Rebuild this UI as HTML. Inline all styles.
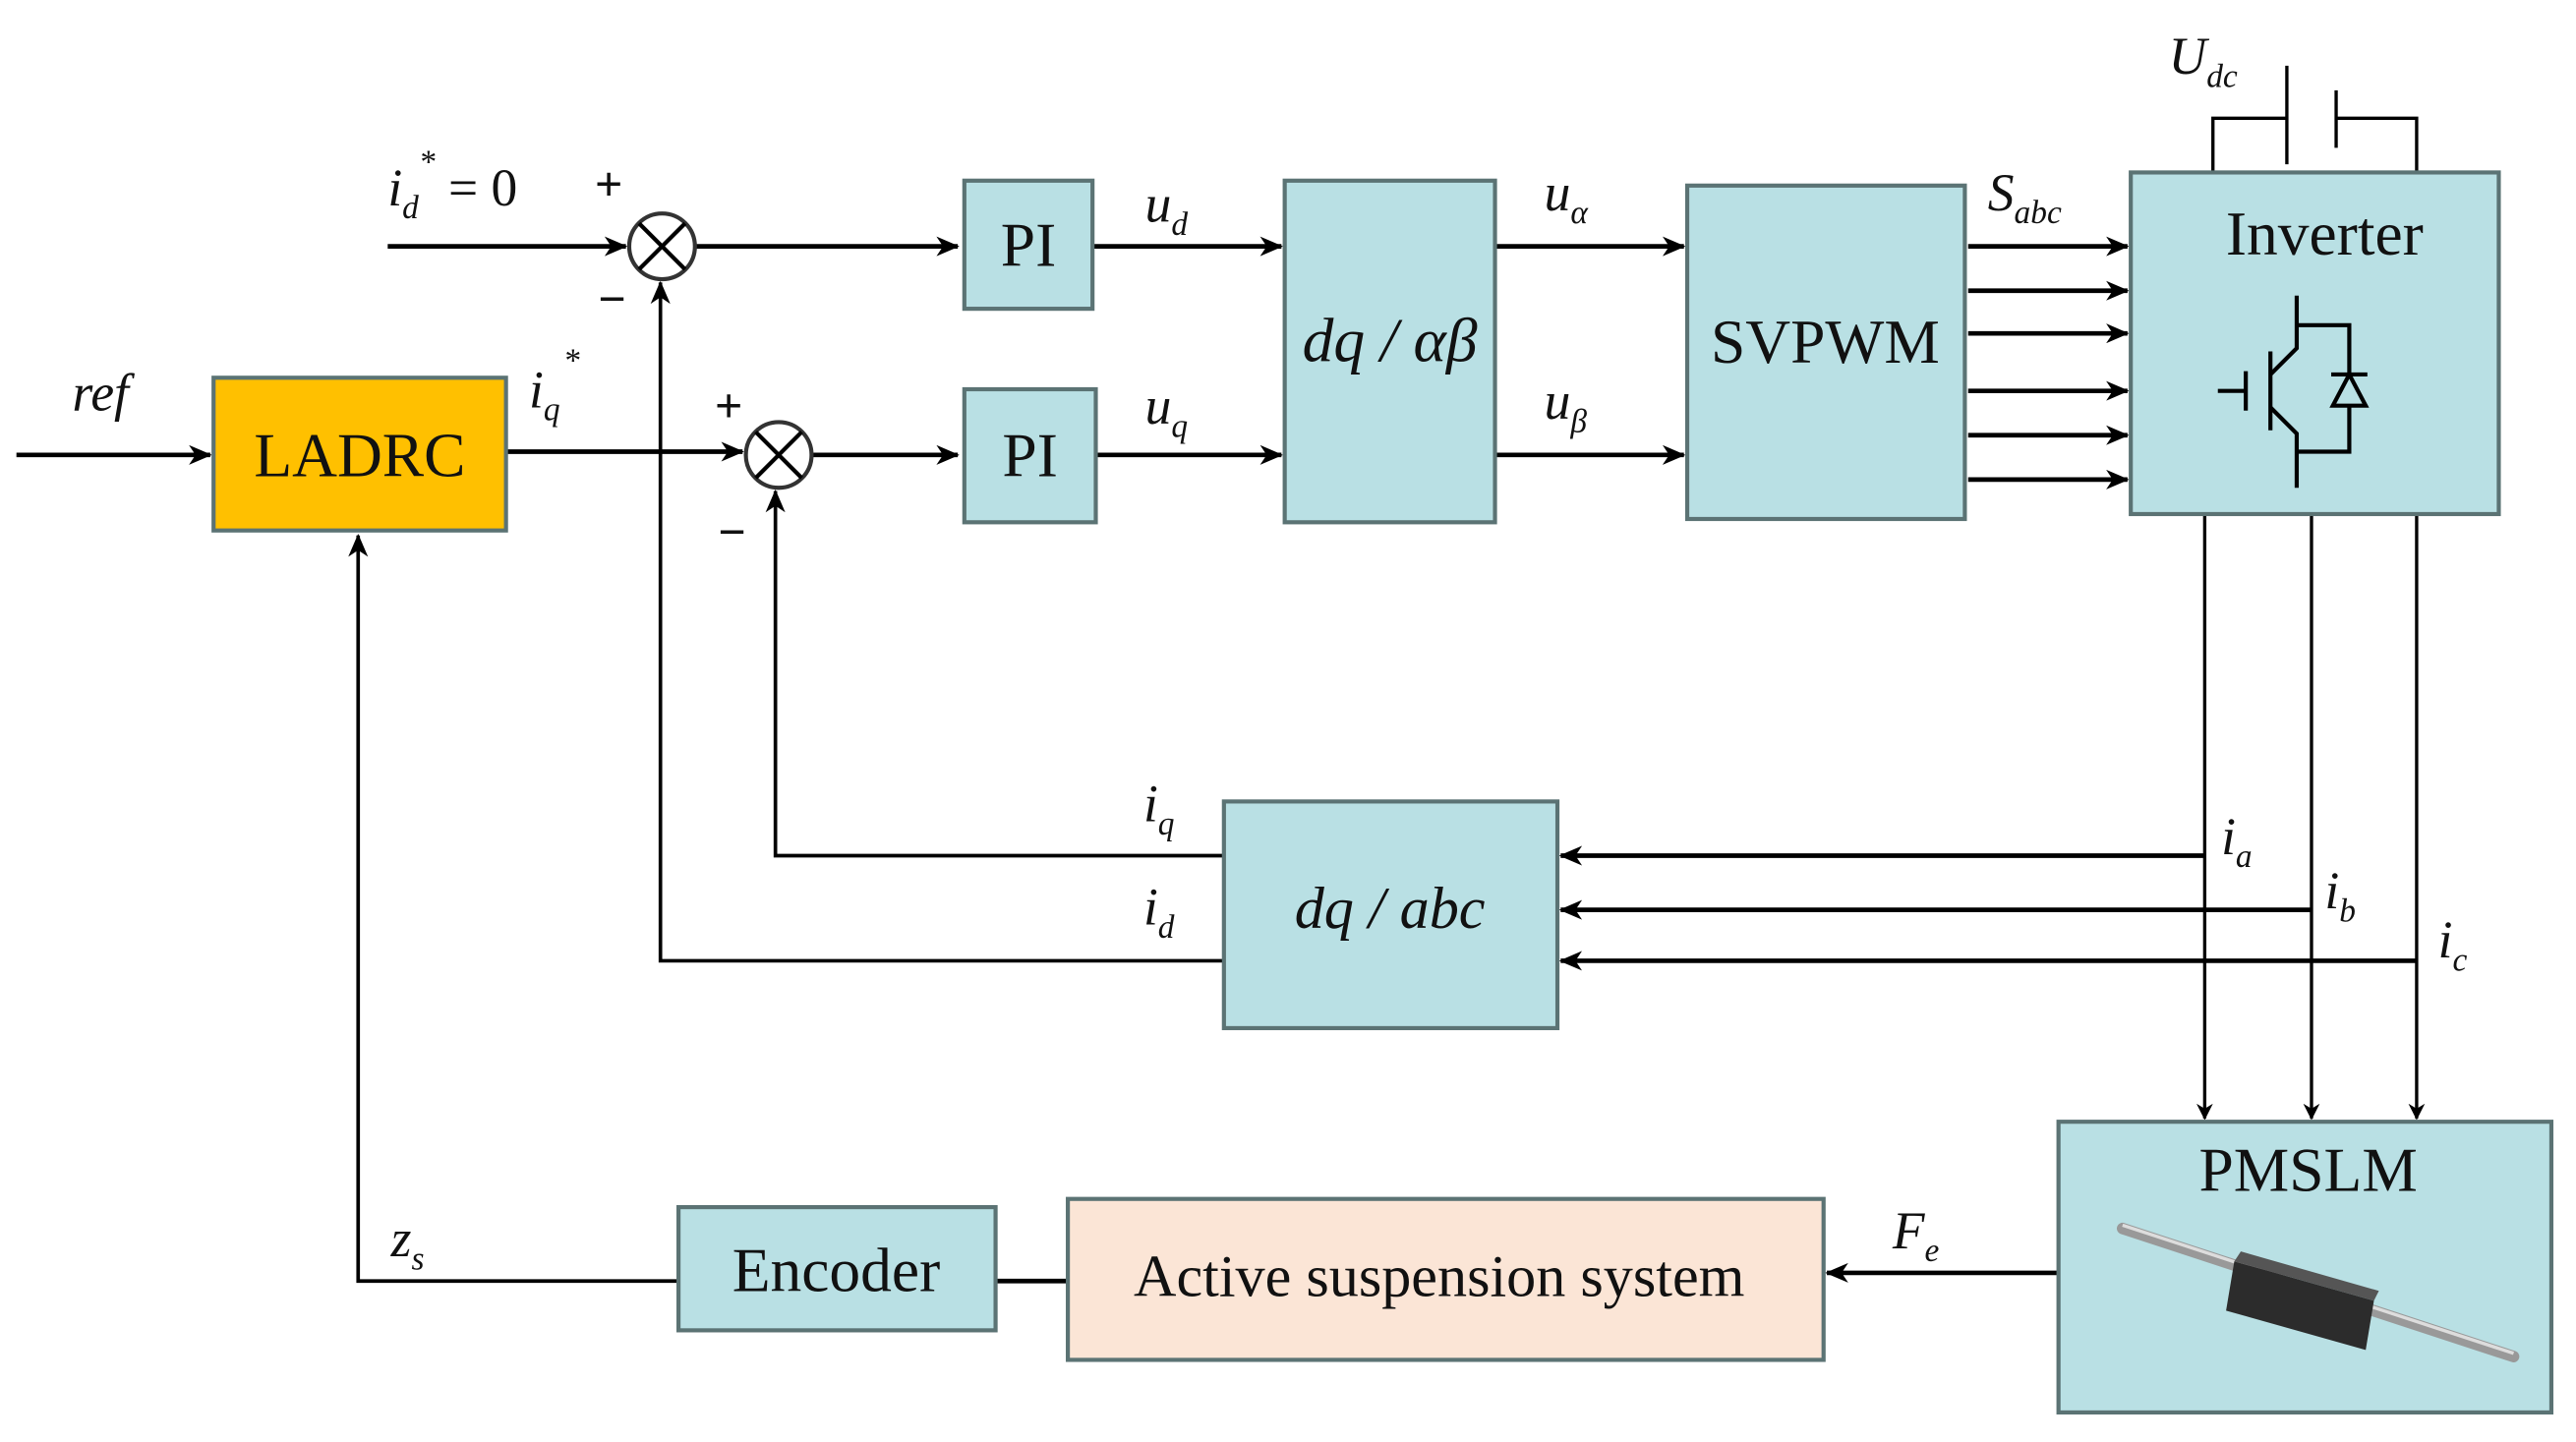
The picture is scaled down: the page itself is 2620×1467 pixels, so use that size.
<!DOCTYPE html>
<html><head><meta charset="utf-8"><style>
html,body{margin:0;padding:0;background:#fff;}
svg{display:block;}
text{font-family:"Liberation Serif",serif;fill:#111;}
.it{font-style:italic;}
</style></head><body>
<svg width="2620" height="1467" viewBox="0 0 1568 878" preserveAspectRatio="none" xmlns="http://www.w3.org/2000/svg">
<defs>
<marker id="a" markerWidth="10" markerHeight="10" refX="9" refY="5" orient="auto" markerUnits="userSpaceOnUse">
<path d="M0,0 L10,5 L0,10 L3,5 Z" fill="#000"/></marker>
<marker id="b" markerWidth="14" markerHeight="12" refX="13" refY="6" orient="auto" markerUnits="userSpaceOnUse">
<path d="M0,0 L14,6 L0,12 L4,6 Z" fill="#000"/></marker>
</defs>
<g fill="none" stroke="#000" stroke-width="2.8">
<line x1="10" y1="277" x2="128" y2="277" marker-end="url(#b)"/>
<line x1="308" y1="275" x2="452" y2="275" marker-end="url(#b)"/>
<line x1="236" y1="150" x2="381" y2="150" marker-end="url(#b)"/>
<line x1="424" y1="150" x2="583" y2="150" marker-end="url(#b)"/>
<line x1="495" y1="277" x2="583" y2="277" marker-end="url(#b)"/>
<line x1="665" y1="150" x2="780" y2="150" marker-end="url(#b)"/>
<line x1="667" y1="277" x2="780" y2="277" marker-end="url(#b)"/>
<line x1="910" y1="150" x2="1025" y2="150" marker-end="url(#b)"/>
<line x1="910" y1="277" x2="1025" y2="277" marker-end="url(#b)"/>
<line x1="1198" y1="150" x2="1295" y2="150" marker-end="url(#b)"/>
<line x1="1198" y1="177" x2="1295" y2="177" marker-end="url(#b)"/>
<line x1="1198" y1="203" x2="1295" y2="203" marker-end="url(#b)"/>
<line x1="1198" y1="238" x2="1295" y2="238" marker-end="url(#b)"/>
<line x1="1198" y1="265" x2="1295" y2="265" marker-end="url(#b)"/>
<line x1="1198" y1="292" x2="1295" y2="292" marker-end="url(#b)"/>
<polyline points="1342,521 950,521" marker-end="url(#b)"/>
<polyline points="1407,554 950,554" marker-end="url(#b)"/>
<polyline points="1471,585 950,585" marker-end="url(#b)"/>
<polyline points="745,521 472,521 472,299" marker-end="url(#b)" stroke-width="2.2"/>
<polyline points="745,585 402,585 402,172" marker-end="url(#b)" stroke-width="2.2"/>
<line x1="1253" y1="775" x2="1112" y2="775" marker-end="url(#b)"/>
<line x1="606" y1="780" x2="650" y2="780"/>
<polyline points="413,780 218,780 218,326" marker-end="url(#b)" stroke-width="2.2"/>
<g stroke-width="2">
<line x1="1342" y1="313" x2="1342" y2="681" marker-end="url(#a)"/>
<line x1="1407" y1="313" x2="1407" y2="681" marker-end="url(#a)"/>
<line x1="1471" y1="313" x2="1471" y2="681" marker-end="url(#a)"/>
<polyline points="1347,105 1347,72 1392,72"/>
<line x1="1392" y1="40" x2="1392" y2="100"/>
<line x1="1422" y1="55" x2="1422" y2="90"/>
<polyline points="1422,72 1471,72 1471,105"/>
</g>
</g>
<g stroke="#5B7374" stroke-width="2.5">
<rect x="130" y="230" width="178" height="93" fill="#FFC000"/>
<rect x="587" y="110" width="78" height="78" fill="#B9E0E4"/>
<rect x="587" y="237" width="80" height="81" fill="#B9E0E4"/>
<rect x="782" y="110" width="128" height="208" fill="#B9E0E4"/>
<rect x="1027" y="113" width="169" height="203" fill="#B9E0E4"/>
<rect x="1297" y="105" width="224" height="208" fill="#B9E0E4"/>
<rect x="745" y="488" width="203" height="138" fill="#B9E0E4"/>
<rect x="1253" y="683" width="300" height="177" fill="#B9E0E4"/>
<rect x="650" y="730" width="460" height="98" fill="#FBE5D6"/>
<rect x="413" y="735" width="193" height="75" fill="#B9E0E4"/>
</g>
<g stroke="#333" stroke-width="2.5" fill="#fff">
<circle cx="403" cy="150" r="20"/>
<circle cx="474" cy="277" r="20"/>
</g>
<g stroke="#000" stroke-width="2.5">
<line x1="389" y1="136" x2="417" y2="164"/><line x1="417" y1="136" x2="389" y2="164"/>
<line x1="460" y1="263" x2="488" y2="291"/><line x1="488" y1="263" x2="460" y2="291"/>
</g>
<g stroke="#000" stroke-width="2.5" fill="none">
<line x1="1350" y1="238" x2="1367" y2="238"/>
<line x1="1367" y1="226" x2="1367" y2="250"/>
<line x1="1382" y1="214" x2="1382" y2="262"/>
<polyline points="1382,228 1398,212 1398,180"/>
<polyline points="1382,248 1398,264 1398,297"/>
<polyline points="1398,198 1430,198 1430,275 1398,275"/>
<line x1="1419" y1="228" x2="1441" y2="228"/>
<polygon points="1430,228 1420,247 1440,247" fill="#B9E0E4"/>
</g>
<g>
<line x1="1292" y1="748" x2="1530" y2="826" stroke="#999" stroke-width="7" stroke-linecap="round"/>
<line x1="1292" y1="746" x2="1530" y2="824" stroke="#ddd" stroke-width="2"/>
<polygon points="1360,768 1445,792 1440,822 1355,798" fill="#2c2c2c"/>
<polygon points="1360,768 1445,792 1448,786 1364,762" fill="#555"/>
</g>
<g font-size="38">
<text x="219" y="290" text-anchor="middle">LADRC</text>
<text x="626" y="162" text-anchor="middle">PI</text>
<text x="627" y="290" text-anchor="middle">PI</text>
<text x="1111" y="221" text-anchor="middle">SVPWM</text>
<text x="1415" y="155" text-anchor="middle">Inverter</text>
<text x="1405" y="725" text-anchor="middle">PMSLM</text>
<text x="509" y="786" text-anchor="middle">Encoder</text>
<text x="876" y="789" text-anchor="middle" font-size="36">Active suspension system</text>
<text x="846" y="220" text-anchor="middle" class="it">dq / αβ</text>
<text x="846" y="565" text-anchor="middle" class="it" font-size="36">dq / abc</text>
</g>
<g font-size="32" class="it">
<text x="44" y="250">ref</text>
<text x="236" y="125">i<tspan font-size="20" dy="8">d</tspan><tspan font-size="20" dy="-28">*</tspan><tspan dy="20" font-style="normal"> = 0</tspan></text>
<text x="322" y="248">i<tspan font-size="20" dy="8">q</tspan><tspan font-size="20" dy="-30" dx="2">*</tspan></text>
<text x="697" y="135">u<tspan font-size="20" dy="8">d</tspan></text>
<text x="697" y="258">u<tspan font-size="20" dy="8">q</tspan></text>
<text x="940" y="128">u<tspan font-size="20" dy="8">α</tspan></text>
<text x="940" y="255">u<tspan font-size="20" dy="8">β</tspan></text>
<text x="1210" y="128">S<tspan font-size="20" dy="8">abc</tspan></text>
<text x="1320" y="45">U<tspan font-size="20" dy="8">dc</tspan></text>
<text x="696" y="500">i<tspan font-size="20" dy="8">q</tspan></text>
<text x="696" y="563">i<tspan font-size="20" dy="8">d</tspan></text>
<text x="1352" y="520">i<tspan font-size="20" dy="8">a</tspan></text>
<text x="1415" y="553">i<tspan font-size="20" dy="8">b</tspan></text>
<text x="1484" y="583">i<tspan font-size="20" dy="8">c</tspan></text>
<text x="1152" y="760">F<tspan font-size="20" dy="8">e</tspan></text>
<text x="238" y="765">z<tspan font-size="20" dy="8">s</tspan></text>
</g>
<g font-size="30" font-weight="bold">
<text x="362" y="122">+</text>
<text x="364" y="192">−</text>
<text x="435" y="257">+</text>
<text x="437" y="334">−</text>
</g>
</svg>
</body></html>
